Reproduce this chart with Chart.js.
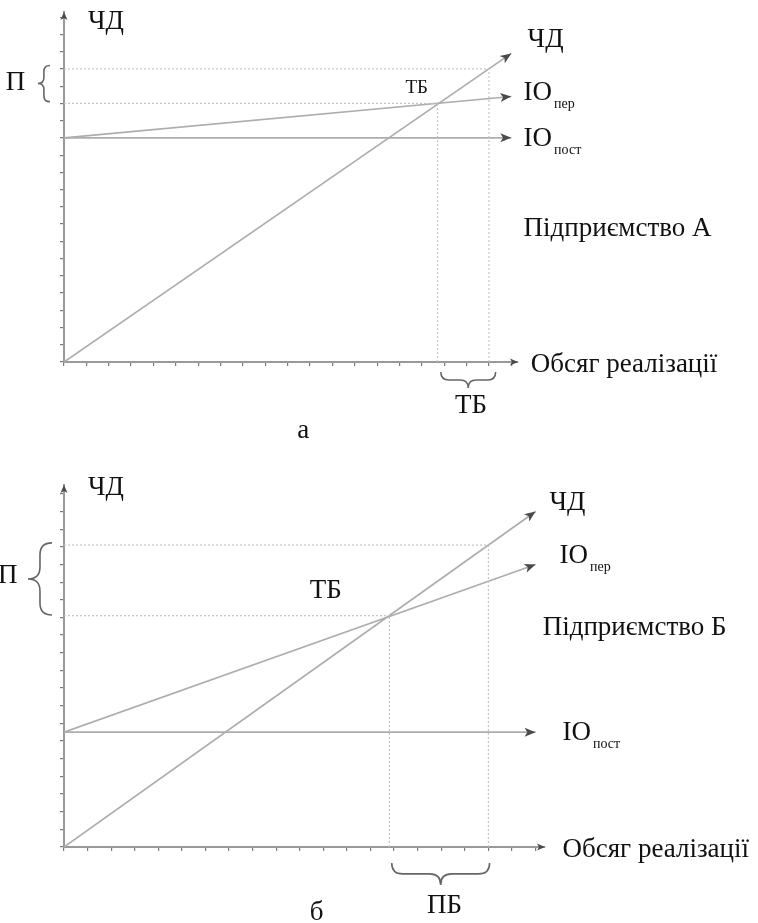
<!DOCTYPE html>
<html>
<head>
<meta charset="utf-8">
<script src="https://cdn.jsdelivr.net/npm/chart.js@4.4.1/dist/chart.umd.min.js"></script>
<style>
  html, body { margin: 0; padding: 0; background: #ffffff; }
  .panel { position: absolute; left: 0; }
</style>
</head>
<body>
<div class="panel" style="top:0px"><canvas id="chartA" width="758" height="445"></canvas></div>
<div class="panel" style="top:445px"><canvas id="chartB" width="758" height="478"></canvas></div>
<script>
const FONT = "'Liberation Serif', 'DejaVu Serif', serif";

// Підприємство А (обсяг реалізації -> ЧД / витрати)
const volumeA = [0, 20];
const revenueA = [0, 17.9];      // ЧД
const fixedA = [13, 13];         // ІО пост
const variableA = [13, 15.4];    // ІО пер
const breakEvenA = [16.7, 15];   // ТБ: [обсяг, значення]
const actualA = [19, 17];        // фактичний обсяг

// Підприємство Б
const volumeB = [0, 20];
const revenueB = [0, 19];
const fixedB = [6.5, 6.5];
const variableB = [6.5, 16];
const breakEvenB = [13.8, 13.1];
const actualB = [18, 17.1];

function pts(xs, ys) {
  return xs.map((x, i) => ({ x: x, y: ys[i] }));
}

function buildDatasets(volume, revenue, fixed, variable, be, act) {
  const solid = { showLine: true, pointRadius: 0, borderColor: '#adadad', borderWidth: 1.7, arrow: true };
  const dotted = { showLine: true, pointRadius: 0, borderColor: '#c4c4c4', borderWidth: 1.2, borderDash: [2, 2] };
  return [
    { ...dotted, label: 'guide1', data: [{ x: 0, y: act[1] }, { x: act[0], y: act[1] }] },
    { ...dotted, label: 'guide2', data: [{ x: act[0], y: 0 }, { x: act[0], y: act[1] }] },
    { ...dotted, label: 'guide3', data: [{ x: 0, y: be[1] }, { x: be[0], y: be[1] }] },
    { ...dotted, label: 'guide4', data: [{ x: be[0], y: 0 }, { x: be[0], y: be[1] }] },
    { ...solid, label: 'ІО пост', data: pts(volume, fixed) },
    { ...solid, label: 'ІО пер', data: pts(volume, variable) },
    { ...solid, label: 'ЧД', data: pts(volume, revenue) }
  ];
}

// підписи (координати в одиницях осей)
const labelsA = [
  { text: 'ЧД', x: 1.07, y: 19.3 },
  { text: 'П', x: -2.6, y: 15.75 },
  { text: 'ТБ', x: 15.27, y: 15.6, size: 19 },
  { text: 'ЧД', x: 20.73, y: 18.26 },
  { text: 'ІО', sub: 'пер', x: 20.55, y: 15.19 },
  { text: 'ІО', sub: 'пост', x: 20.55, y: 12.52 },
  { text: 'Підприємство А', x: 20.55, y: 7.3 },
  { text: 'Обсяг реалізації', x: 20.87, y: -0.58 },
  { text: 'ТБ', x: 18.2, y: -2.96, align: 'center' },
  { text: 'а', x: 10.43, y: -4.4 }
];
const bracesA = [
  { x1: -0.63, y1: 17.2, x2: -0.63, y2: 15.1, w: 12 },
  { x1: 16.85, y1: -0.58, x2: 19.3, y2: -0.58, w: 16 }
];

const labelsB = [
  { text: 'ЧД', x: 1.02, y: 19.94 },
  { text: 'П', x: -2.8, y: 14.96 },
  { text: 'ТБ', x: 10.42, y: 14.1 },
  { text: 'ЧД', x: 20.59, y: 19.09 },
  { text: 'ІО', sub: 'пер', x: 21.02, y: 16.09 },
  { text: 'Підприємство Б', x: 20.3, y: 12.01 },
  { text: 'ІО', sub: 'пост', x: 21.14, y: 6.06 },
  { text: 'Обсяг реалізації', x: 21.14, y: -0.57 },
  { text: 'ПБ', x: 16.14, y: -3.74, align: 'center' },
  { text: 'б', x: 10.42, y: -4.14 }
];
const bracesB = [
  { x1: -0.51, y1: 17.22, x2: -0.51, y2: 13.14, w: 24 },
  { x1: 13.9, y1: -0.9, x2: 18.05, y2: -0.9, w: 22 }
];

function arrowHead(ctx, x, y, ang, len, half, color) {
  ctx.save();
  ctx.translate(x, y);
  ctx.rotate(ang);
  ctx.beginPath();
  ctx.moveTo(0, 0);
  ctx.lineTo(-len, -half);
  ctx.lineTo(-len * 0.75, 0);
  ctx.lineTo(-len, half);
  ctx.closePath();
  ctx.fillStyle = color;
  ctx.fill();
  ctx.restore();
}

function brace(ctx, x1, y1, x2, y2, w) {
  const len = Math.hypot(x2 - x1, y2 - y1);
  const ang = Math.atan2(y2 - y1, x2 - x1);
  const h = len / 2, q = w / 2;
  ctx.save();
  ctx.translate(x1, y1);
  ctx.rotate(ang);
  ctx.beginPath();
  ctx.moveTo(0, 0);
  ctx.quadraticCurveTo(0, q, q, q);
  ctx.lineTo(h - q, q);
  ctx.quadraticCurveTo(h, q, h, w);
  ctx.moveTo(h, w);
  ctx.quadraticCurveTo(h, q, h + q, q);
  ctx.lineTo(len - q, q);
  ctx.quadraticCurveTo(len, q, len, 0);
  ctx.strokeStyle = '#666666';
  ctx.lineWidth = 1.6;
  ctx.stroke();
  ctx.restore();
}

const drawExtras = {
  id: 'drawExtras',
  afterDraw(chart, args, opts) {
    const { ctx, chartArea: ca, scales: { x, y } } = chart;
    ctx.save();
    // стрілки на лініях
    chart.data.datasets.forEach((ds, i) => {
      if (!ds.arrow) return;
      const p = chart.getDatasetMeta(i).data;
      const a = p[p.length - 2], b = p[p.length - 1];
      arrowHead(ctx, b.x, b.y, Math.atan2(b.y - a.y, b.x - a.x), 11, 4.5, '#4a4a4a');
    });
    // стрілки осей
    arrowHead(ctx, ca.right, ca.bottom, 0, 8, 3.5, '#4a4a4a');
    arrowHead(ctx, ca.left, ca.top, -Math.PI / 2, 8, 3.5, '#4a4a4a');
    // дужки
    (opts.braces || []).forEach(b => {
      brace(ctx, x.getPixelForValue(b.x1), y.getPixelForValue(b.y1),
        x.getPixelForValue(b.x2), y.getPixelForValue(b.y2), b.w);
    });
    // підписи
    ctx.fillStyle = '#111111';
    ctx.textBaseline = 'alphabetic';
    (opts.labels || []).forEach(l => {
      const px = x.getPixelForValue(l.x), py = y.getPixelForValue(l.y);
      ctx.font = (l.size || 27) + 'px ' + FONT;
      ctx.textAlign = l.align || 'left';
      ctx.fillText(l.text, px, py);
      if (l.sub) {
        const w = ctx.measureText(l.text).width;
        ctx.font = '14px ' + FONT;
        ctx.textAlign = 'left';
        ctx.fillText(l.sub, px + w + 2, py + 8);
      }
    });
    ctx.restore();
  }
};

function axisOpts(max) {
  return {
    type: 'linear',
    min: 0,
    max: max,
    ticks: { display: false, stepSize: 1, includeBounds: false },
    grid: { drawOnChartArea: false, drawTicks: true, tickLength: 4, color: '#7a7a7a', lineWidth: 1.2 },
    border: { display: true, color: '#999999', width: 2 }
  };
}

function makeChart(id, datasets, xMax, yMax, padding, labels, braces) {
  const xs = axisOpts(xMax);
  xs.position = 'bottom';
  xs.afterFit = s => { s.height = 0; };
  const ys = axisOpts(yMax);
  ys.position = 'left';
  ys.afterFit = s => { s.width = 0; };
  return new Chart(document.getElementById(id).getContext('2d'), {
    type: 'scatter',
    data: { datasets: datasets },
    options: {
      responsive: false,
      animation: false,
      layout: { padding: padding },
      plugins: {
        legend: { display: false },
        tooltip: { enabled: false },
        title: { display: false },
        drawExtras: { labels: labels, braces: braces }
      },
      scales: { x: xs, y: ys }
    },
    plugins: [drawExtras]
  });
}

makeChart('chartA', buildDatasets(volumeA, revenueA, fixedA, variableA, breakEvenA, actualA),
  20.3, 20.3, { left: 64, top: 12, right: 240, bottom: 83 }, labelsA, bracesA);

makeChart('chartB', buildDatasets(volumeB, revenueB, fixedB, variableB, breakEvenB, actualB),
  20.4, 20.5, { left: 64, top: 40, right: 213, bottom: 76 }, labelsB, bracesB);
</script>
</body>
</html>
